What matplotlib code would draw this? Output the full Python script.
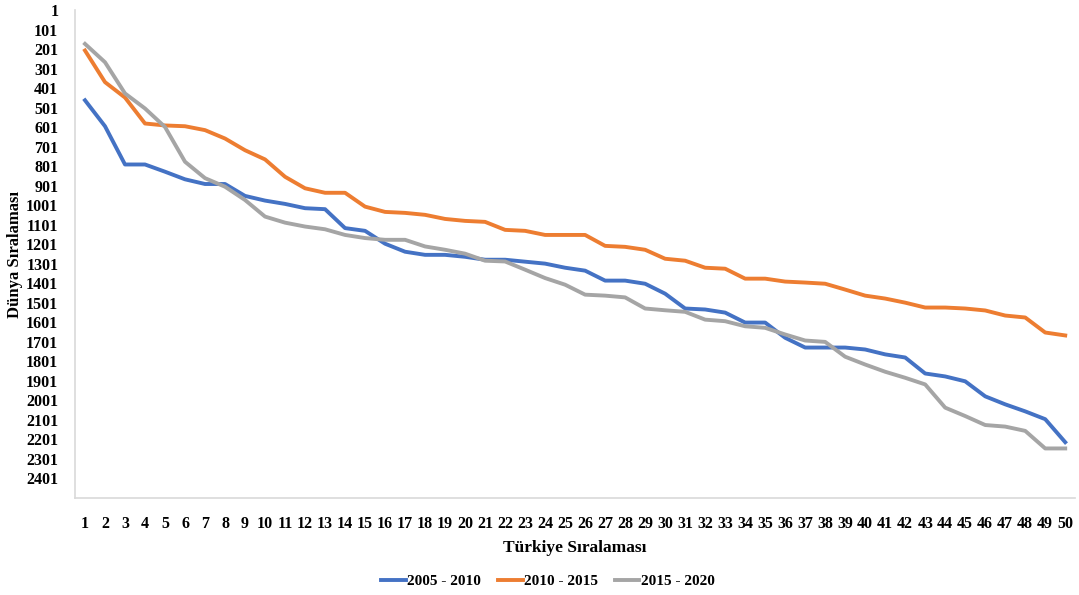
import matplotlib.pyplot as plt
import numpy as np

plt.rcParams['font.family'] = ['Liberation Serif', 'DejaVu Serif']
plt.rcParams['font.weight'] = 'bold'

turkiye_rank = np.arange(1, 51)

rank_2005_2010 = [463, 596, 792, 792, 829, 868, 892, 892, 953, 977,
                  994, 1016, 1021, 1118, 1132, 1198, 1239, 1255, 1255, 1265,
                  1280, 1280, 1290, 1300, 1321, 1336, 1387, 1387, 1403, 1454,
                  1530, 1535, 1551, 1602, 1602, 1680, 1730, 1730, 1730, 1740,
                  1765, 1781, 1863, 1878, 1903, 1980, 2021, 2057, 2097, 2215]

rank_2010_2015 = [208, 370, 449, 582, 592, 596, 616, 659, 719, 766,
                  855, 914, 937, 937, 1008, 1035, 1040, 1050, 1071, 1081,
                  1086, 1127, 1132, 1153, 1153, 1153, 1209, 1214, 1229, 1275,
                  1285, 1321, 1326, 1377, 1377, 1392, 1397, 1403, 1433, 1464,
                  1479, 1500, 1525, 1525, 1530, 1540, 1566, 1576, 1653, 1668]

rank_2015_2020 = [174, 268, 428, 505, 600, 778, 862, 906, 974, 1059,
                  1090, 1110, 1124, 1153, 1169, 1178, 1178, 1212, 1229, 1249,
                  1285, 1289, 1331, 1374, 1408, 1459, 1464, 1473, 1530, 1539,
                  1547, 1587, 1595, 1621, 1629, 1663, 1694, 1701, 1777, 1817,
                  1854, 1885, 1919, 2038, 2081, 2127, 2135, 2157, 2247, 2247]

series = {
    '2005 - 2010': (rank_2005_2010, '#4472C4'),
    '2010 - 2015': (rank_2010_2015, '#ED7D31'),
    '2015 - 2020': (rank_2015_2020, '#A5A5A5'),
}

fig = plt.figure(figsize=(10.79, 5.95), dpi=100)
ax = fig.add_axes([0.0695, 0.163, 0.927, 0.820])

for label, (values, color) in series.items():
    ax.plot(turkiye_rank, values, color=color, linewidth=2.8, label=label,
            solid_joinstyle='round')

ax.set_xlim(0.5, 50.5)
ax.set_ylim(2501, 1)
ax.set_xticks(turkiye_rank)
ax.set_yticks(np.arange(1, 2402, 100))
ax.tick_params(length=0, labelsize=11.5)
ax.tick_params(axis='x', pad=13)
ax.tick_params(axis='y', pad=12)

for side in ['top', 'right']:
    ax.spines[side].set_visible(False)
for side in ['left', 'bottom']:
    ax.spines[side].set_color('#d9d9d9')
    ax.spines[side].set_linewidth(1.2)

ax.set_xlabel('Türkiye Sıralaması', fontsize=12.5, fontweight='bold', labelpad=6)
ax.set_ylabel('Dünya Sıralaması', fontsize=12, fontweight='bold', labelpad=2)

ax.legend(loc='upper center', bbox_to_anchor=(0.473, -0.128), ncol=3,
          frameon=False, fontsize=11, handlelength=1.6, columnspacing=1.1,
          handletextpad=0.1)

fig.savefig('out.png', dpi=100)
